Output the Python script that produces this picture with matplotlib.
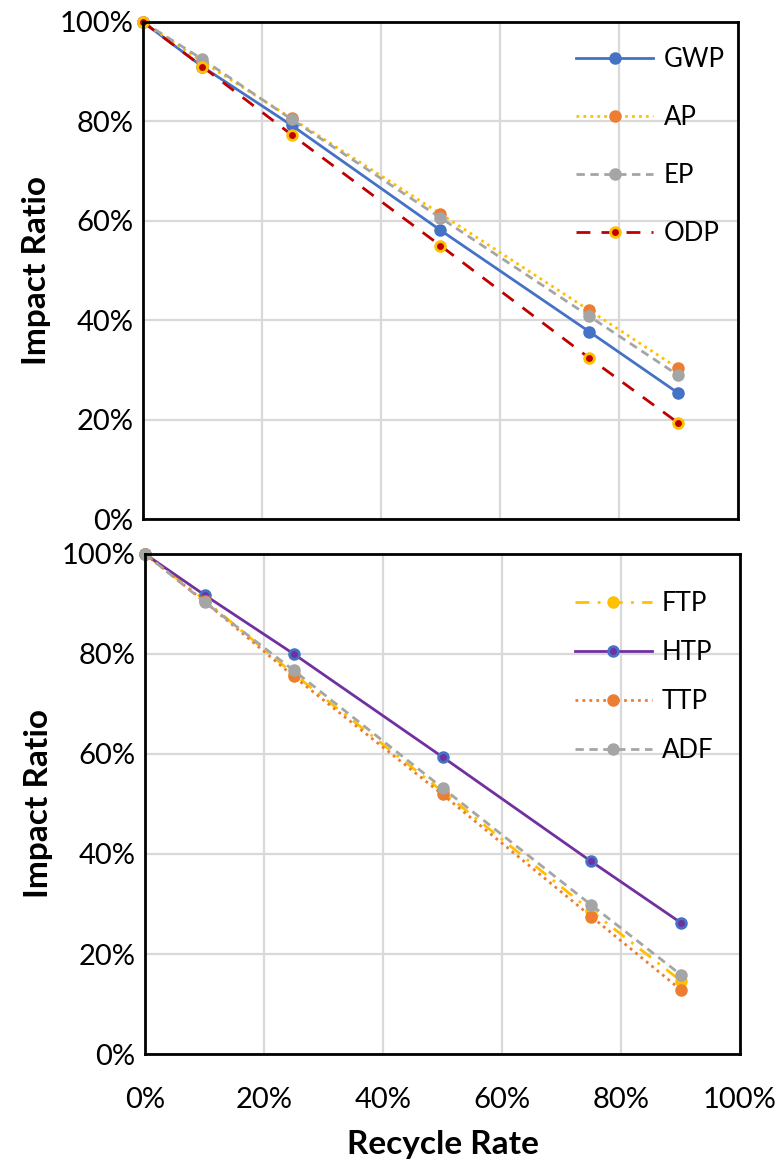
import numpy as np
import matplotlib.pyplot as plt
from matplotlib.ticker import PercentFormatter

# recycle rates (%)
rate = [0, 10, 25, 50, 75, 90]

# upper panel impact ratios (%)
gwp = [100, 91.0, 79.2, 58.1, 37.7, 25.3]
ap = [100, 92.0, 80.6, 61.4, 42.0, 30.3]
ep = [100, 92.5, 80.4, 60.6, 40.8, 28.9]
odp = [100, 91.0, 77.3, 55.0, 32.4, 19.3]

# lower panel impact ratios (%)
ftp = [100, 90.8, 76.0, 52.5, 28.6, 14.7]
htp = [100, 91.8, 80.0, 59.4, 38.5, 26.3]
ttp = [100, 90.5, 75.5, 51.9, 27.5, 12.9]
adf = [100, 90.4, 76.7, 53.2, 29.8, 15.9]

yticks = [0, 20, 40, 60, 80, 100]
xticks = [0, 20, 40, 60, 80, 100]

plt.rcParams['font.family'] = ['Lato', 'DejaVu Sans']

fig = plt.figure(figsize=(7.83, 11.63), dpi=100)
ax1 = fig.add_axes([0.1826, 0.5537, 0.7599, 0.4274])
ax2 = fig.add_axes([0.1852, 0.0937, 0.7599, 0.4300])

ms = 8
ax1.plot(rate, gwp, color='#4472C4', lw=2, marker='o', ms=ms, label='GWP', clip_on=False)
ax1.plot(rate, ap, color='#FFC000', lw=2, ls=(0, (1, 1.5)), marker='o', ms=ms,
         mfc='#ED7D31', mec='#ED7D31', label='AP', clip_on=False)
ax1.plot(rate, ep, color='#A5A5A5', lw=2, ls=(0, (3, 2)), marker='o', ms=ms,
         label='EP', clip_on=False)
ax1.plot(rate, odp, color='#C00000', lw=2, ls=(0, (5, 4)), marker='o', ms=7,
         mfc='#C00000', mec='#FFC000', mew=2, label='ODP', clip_on=False)

ax2.plot(rate, ftp, color='#FFC000', lw=2, ls=(0, (5, 3, 1, 3)), marker='o', ms=ms,
         label='FTP', clip_on=False)
ax2.plot(rate, htp, color='#7030A0', lw=2, marker='o', ms=7,
         mfc='#7030A0', mec='#4472C4', mew=2, label='HTP', clip_on=False)
ax2.plot(rate, ttp, color='#ED7D31', lw=2, ls=(0, (1, 1.5)), marker='o', ms=ms,
         label='TTP', clip_on=False)
ax2.plot(rate, adf, color='#A5A5A5', lw=2, ls=(0, (3, 2)), marker='o', ms=ms,
         label='ADF', clip_on=False)

for ax in (ax1, ax2):
    ax.set_xlim(0, 100)
    ax.set_ylim(0, 100)
    ax.set_xticks(xticks)
    ax.set_yticks(yticks)
    ax.yaxis.set_major_formatter(PercentFormatter(decimals=0))
    ax.xaxis.set_major_formatter(PercentFormatter(decimals=0))
    ax.grid(True, color='#D9D9D9', lw=1.6)
    ax.set_axisbelow(True)
    ax.tick_params(length=0, labelsize=21, pad=7)
    for s in ax.spines.values():
        s.set_linewidth(2)
        s.set_color('black')
    ax.set_ylabel('Impact Ratio', fontsize=24, fontweight='bold', labelpad=6)

ax1.tick_params(labelbottom=False)
ax2.tick_params(axis='x', pad=24)
ax2.set_xlabel('Recycle Rate', fontsize=24, fontweight='bold', labelpad=12)

ax1.legend(loc='upper left', bbox_to_anchor=(0.728, 0.95), frameon=False,
           fontsize=18.5, handlelength=3.0, handletextpad=0.4, labelspacing=1.28,
           borderpad=0, borderaxespad=0)
ax2.legend(loc='upper left', bbox_to_anchor=(0.722, 0.925), frameon=False,
           fontsize=18.5, handlelength=3.0, handletextpad=0.4, labelspacing=0.93,
           borderpad=0, borderaxespad=0)

fig.savefig('out.png', dpi=100)
